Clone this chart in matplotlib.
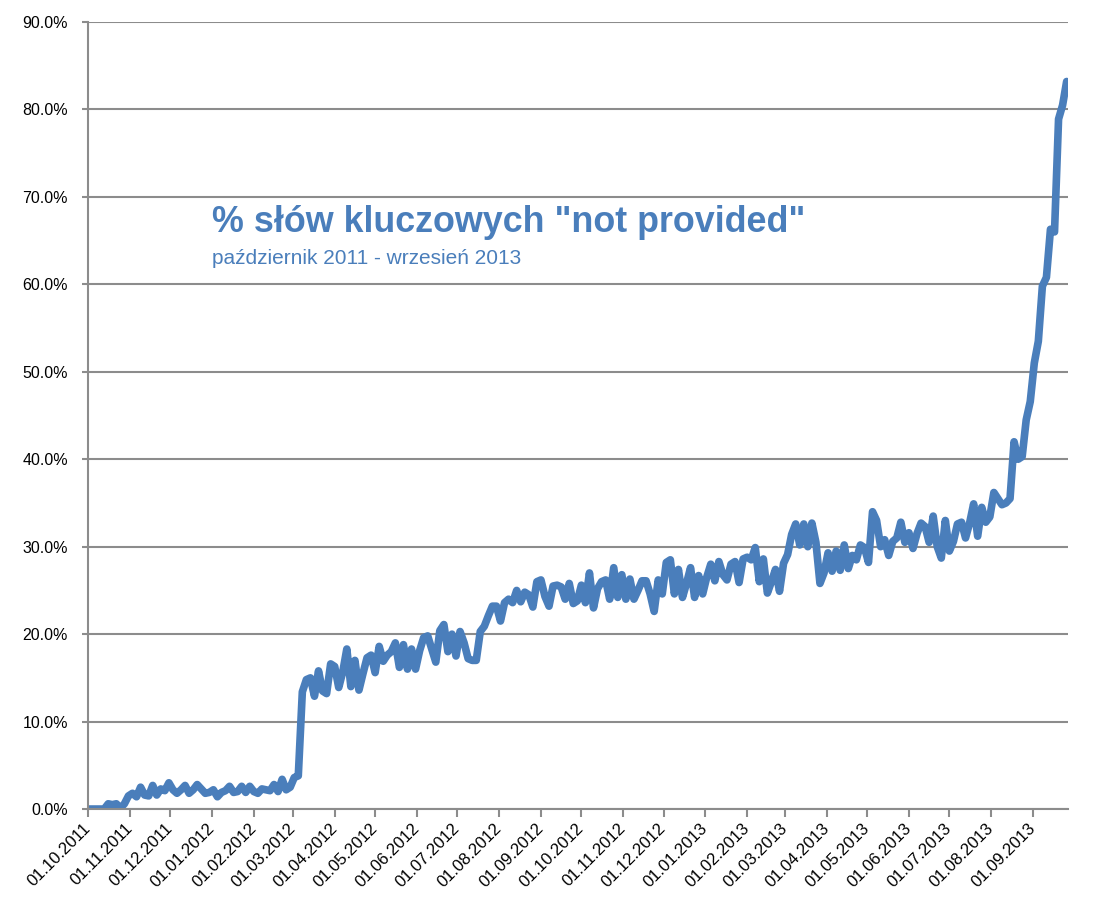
import pandas as pd
import matplotlib
matplotlib.use('Agg')
import matplotlib.pyplot as plt
import matplotlib.dates as mdates
from matplotlib.ticker import FuncFormatter

# udział słów "not provided" (%), odczyt co 3 dni od 01.10.2011
start = '2011-10-01'
krok = '3D'
not_provided = [
    0, 0, 0, 0, 0, 0.6, 0.5, 0.6, 0.1, 0.6,
    1.5, 1.8, 1.4, 2.5, 1.6, 1.5, 2.7, 1.6, 2.3, 2.1,
    3.0, 2.2, 1.8, 2.2, 2.7, 1.8, 2.2, 2.8, 2.3, 1.8,
    1.9, 2.2, 1.4, 1.9, 2.1, 2.6, 1.9, 2.0, 2.6, 1.9,
    2.6, 2.0, 1.8, 2.3, 2.2, 2.1, 2.8, 2.0, 3.4, 2.2,
    2.5, 3.6, 3.8, 13.4, 14.8, 15.0, 12.9, 15.8, 13.5, 13.2,
    16.6, 16.3, 13.9, 15.7, 18.3, 14.0, 17.0, 13.6, 15.5, 17.3,
    17.6, 15.6, 18.6, 16.9, 17.6, 18.0, 19.0, 16.2, 18.8, 16.0,
    18.3, 16.0, 18.1, 19.6, 19.8, 18.3, 16.8, 20.4, 21.1, 18.0,
    20.0, 17.5, 20.3, 19.0, 17.2, 17.0, 17.0, 20.3, 20.9, 22.1,
    23.2, 23.2, 21.5, 23.6, 24.0, 23.6, 25.0, 23.7, 24.8, 24.5,
    23.1, 26.0, 26.2, 24.3, 23.2, 25.5, 25.6, 25.4, 24.0, 25.8,
    23.5, 23.8, 25.6, 23.6, 27.0, 23.0, 25.2, 26.0, 26.2, 24.0,
    27.6, 24.2, 26.8, 24.0, 26.3, 24.0, 25.0, 26.1, 26.1, 24.6,
    22.6, 26.2, 24.6, 28.2, 28.5, 24.6, 27.4, 24.2, 25.8, 27.6,
    24.2, 26.7, 24.6, 26.5, 28.0, 26.1, 28.3, 26.8, 26.2, 28.0,
    28.3, 25.9, 28.6, 28.8, 28.5, 29.9, 26.0, 28.6, 24.7, 26.0,
    27.4, 24.9, 28.1, 29.1, 31.4, 32.6, 30.2, 32.6, 30.0, 32.7,
    30.5, 25.8, 27.0, 29.3, 27.2, 29.5, 27.3, 30.2, 27.5, 29.0,
    28.5, 30.2, 29.9, 28.2, 34.0, 33.0, 30.0, 30.8, 29.0, 30.6,
    31.0, 32.8, 30.5, 31.6, 29.8, 31.5, 32.7, 32.3, 30.5, 33.5,
    30.0, 28.7, 33.0, 29.5, 30.6, 32.6, 32.8, 31.0, 32.7, 34.9,
    31.2, 34.5, 32.8, 33.4, 36.2, 35.5, 34.8, 35.0, 35.5, 42.0,
    40.0, 40.3, 44.5, 46.6, 51.0, 53.5, 59.8, 60.8, 66.3, 66.0,
    78.9, 80.5, 83.2,
]
daty = pd.date_range(start, periods=len(not_provided), freq=krok)

tytul = '% słów kluczowych "not provided"'
podtytul = 'październik 2011 - wrzesień 2013'

niebieski = '#4a7ebb'
szary = '#8c8c8c'

plt.rcParams['font.family'] = ['Liberation Sans', 'DejaVu Sans']

fig = plt.figure(figsize=(11.14, 9.18), dpi=100)
ax = fig.add_axes([0.079, 0.1187, 0.8797, 0.8573])

ax.plot(daty, not_provided, color=niebieski, linewidth=5.5, solid_joinstyle='round',
        solid_capstyle='round')

ax.set_ylim(0, 90)
ax.set_yticks(range(0, 91, 10))
ax.yaxis.set_major_formatter(FuncFormatter(lambda v, p: f'{v:.1f}%'))
ax.set_xlim(pd.Timestamp('2011-10-01'), pd.Timestamp('2013-09-27'))
ax.xaxis.set_major_locator(mdates.MonthLocator(bymonthday=1))
ax.xaxis.set_major_formatter(mdates.DateFormatter('%d.%m.%Y'))

ax.grid(axis='y', color=szary, linewidth=1.5)
ax.set_axisbelow(True)
for s in ['top', 'right']:
    ax.spines[s].set_visible(False)
for s in ['left', 'bottom']:
    ax.spines[s].set_color(szary)
    ax.spines[s].set_linewidth(1.5)

ax.tick_params(axis='y', colors=szary, width=1.5, length=4.5, pad=10,
               labelcolor='black', labelsize=11.5)
ax.tick_params(axis='x', colors=szary, width=1.5, length=6, pad=6,
               labelcolor='black', labelsize=12)
plt.setp(ax.get_xticklabels(), rotation=45, ha='right', va='center', rotation_mode='anchor')

ax.text(0.1265, 0.745, tytul, transform=ax.transAxes, color=niebieski,
        fontsize=25.8, fontweight='bold', va='center', ha='left')
ax.text(0.1265, 0.700, podtytul, transform=ax.transAxes, color=niebieski,
        fontsize=15, va='center', ha='left')

fig.savefig('out.png', dpi=100)
